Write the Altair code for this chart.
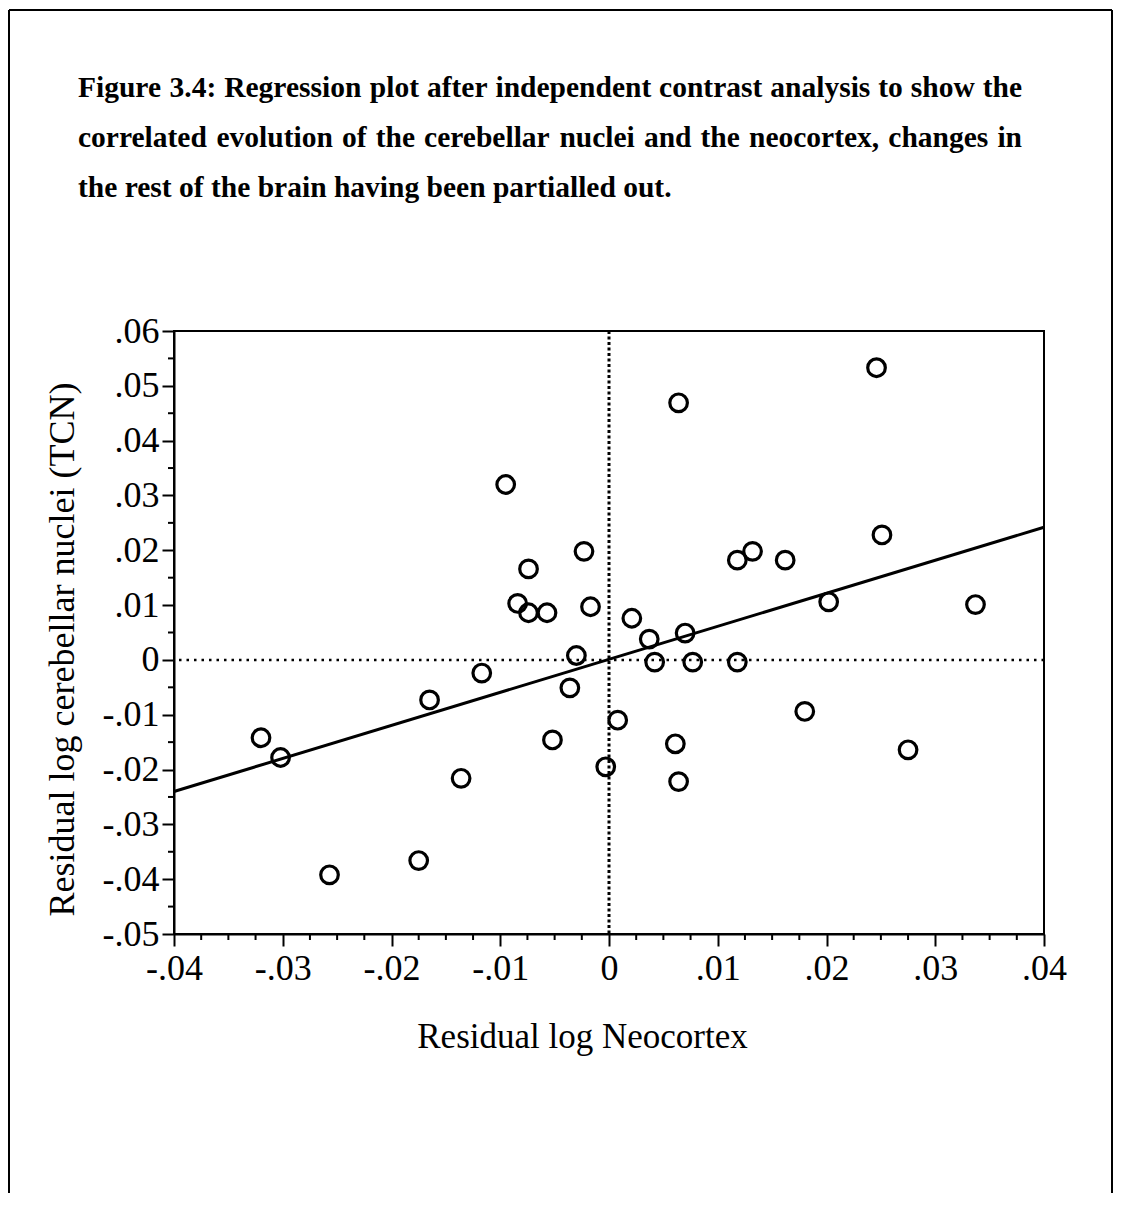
import json
import altair as alt
import pandas as pd

# ---------------- data ----------------
neocortex = [0.0246, 0.0064, -0.0095, 0.0251, -0.0023, 0.0132, 0.0118, 0.0162,
             -0.0074, -0.0084, -0.0074, -0.0057, -0.0017, 0.0202, 0.0337, 0.0021,
             0.0070, 0.0037, -0.0030, 0.0042, 0.0077, 0.0118, -0.0117, -0.0165,
             -0.0036, 0.0008, 0.0180, -0.0320, -0.0302, -0.0052, 0.0061, 0.0275,
             -0.0136, -0.0003, 0.0064, -0.0175, -0.0257]
nuclei = [0.0533, 0.0469, 0.0320, 0.0228, 0.0198, 0.0198, 0.0182, 0.0182,
          0.0166, 0.0103, 0.0086, 0.0086, 0.0097, 0.0106, 0.0101, 0.0076,
          0.0049, 0.0038, 0.0008, -0.0004, -0.0004, -0.0004, -0.0024, -0.0073,
          -0.0051, -0.0110, -0.0094, -0.0142, -0.0178, -0.0146, -0.0153, -0.0164,
          -0.0216, -0.0195, -0.0222, -0.0366, -0.0392]

fit_x = [-0.04, 0.04]
fit_y = [-0.0240, 0.0242]

x_ticks = [-0.04, -0.03, -0.02, -0.01, 0.0, 0.01, 0.02, 0.03, 0.04]
x_labels = ["-.04", "-.03", "-.02", "-.01", "0", ".01", ".02", ".03", ".04"]
y_ticks = [-0.05, -0.04, -0.03, -0.02, -0.01, 0.0, 0.01, 0.02, 0.03, 0.04, 0.05, 0.06]
y_labels = ["-.05", "-.04", "-.03", "-.02", "-.01", "0", ".01", ".02", ".03", ".04", ".05", ".06"]

x_minor = [round(-0.04 + i * 0.0025, 4) for i in range(33) if i % 4 != 0]
y_minor = [round(-0.05 + i * 0.005, 4) for i in range(23) if i % 2 != 0]

caption = [
    "Figure 3.4: Regression plot after independent contrast analysis to show the",
    "correlated evolution of the cerebellar nuclei and the neocortex, changes in",
    "the rest of the brain having been partialled out.",
]
x_title = "Residual log Neocortex"
y_title = "Residual log cerebellar nuclei (TCN)"

# ---------------- layout ----------------
W, H = 870, 603
PAD = {"left": 166, "top": 323, "right": 70, "bottom": 259}
SERIF = "Liberation Serif"

pts = pd.DataFrame({"x": neocortex, "y": nuclei})
fit = pd.DataFrame({"x": fit_x, "y": fit_y})
zero = pd.DataFrame({"x": [0.0], "y": [0.0]})
one = pd.DataFrame({"k": [0]})

xs = alt.Scale(domain=[-0.04, 0.04], nice=False, zero=False)
ys = alt.Scale(domain=[-0.05, 0.06], nice=False, zero=False)


def label_expr(vals, labels):
    keys = [int(round(v * 100)) for v in vals]
    return f"{json.dumps(labels)}[indexof({json.dumps(keys)}, round(datum.value*100))]"


common_axis = dict(
    grid=False, tickSize=12, tickWidth=2, tickColor="black",
    domainColor="black", domainWidth=2,
    labelFont=SERIF, labelFontSize=36, labelColor="black",
    labelFlush=False, labelOverlap=False,
    titleFont=SERIF, titleFontWeight="normal", titleColor="black",
)

x_axis = alt.Axis(values=x_ticks, labelExpr=label_expr(x_ticks, x_labels),
                  labelPadding=5, title=x_title, titleFontSize=35, titleX=408, titleY=113,
                  titleAlign="center", titleBaseline="alphabetic", **common_axis)
y_axis = alt.Axis(values=y_ticks, labelExpr=label_expr(y_ticks, y_labels),
                  labelPadding=3, title=y_title, titleFontSize=36, titleX=-101, titleY=318,
                  titleAngle=270, titleAlign="center", titleBaseline="alphabetic",
                  **common_axis)


def X(field):
    return alt.X(f"{field}:Q", scale=xs, axis=x_axis)


def Y(field):
    return alt.Y(f"{field}:Q", scale=ys, axis=y_axis)


points = alt.Chart(pts).mark_point(
    shape="circle", filled=False, color="black", strokeWidth=3.2, size=310, opacity=1
).encode(x=X("x"), y=Y("y"))

line = alt.Chart(fit).mark_line(color="black", strokeWidth=3).encode(x=X("x"), y=Y("y"))

vzero = alt.Chart(zero).mark_rule(color="black", strokeWidth=3, strokeDash=[3, 2.5]).encode(
    x=X("x"))
hzero = alt.Chart(zero).mark_rule(color="black", strokeWidth=2.5, strokeDash=[2.5, 5]).encode(
    y=Y("y"))

xminor = alt.Chart(pd.DataFrame({"x": x_minor})).mark_rule(color="black", strokeWidth=2).encode(
    x=X("x"), y=alt.value(H), y2=alt.value(H + 6))
yminor = alt.Chart(pd.DataFrame({"y": y_minor})).mark_rule(color="black", strokeWidth=2).encode(
    y=Y("y"), x=alt.value(0), x2=alt.value(-6))

# ---------------- caption (justified like the printed page) ----------------
CAP_FS = 29.5
CAP_X0, CAP_W = -96, 944          # left edge and justified width, relative to plot
CAP_Y0, CAP_LH = 97 - 331, 50     # first baseline and line spacing

# approximate advance widths of Times Bold (per 1000 em) used for justification
_bold_w = {
    " ": 250, "a": 500, "b": 556, "c": 444, "d": 556, "e": 444, "f": 333, "g": 500,
    "h": 556, "i": 278, "j": 333, "k": 556, "l": 278, "m": 833, "n": 556, "o": 500,
    "p": 556, "q": 556, "r": 444, "s": 389, "t": 333, "u": 556, "v": 500, "w": 722,
    "x": 500, "y": 500, "z": 444, "F": 611, "R": 722, ".": 250, ":": 333, ",": 250,
}


def word_width(w):
    return sum(_bold_w.get(ch, 500) for ch in w) * CAP_FS / 1000.0


text_style = dict(baseline="alphabetic", font=SERIF, fontSize=CAP_FS,
                  fontWeight="bold", color="black")
cap_layers = []
for li, text in enumerate(caption):
    y_px = CAP_Y0 + li * CAP_LH
    if li == len(caption) - 1:
        cap_layers.append(alt.Chart(one).mark_text(text=text, align="left", **text_style)
                          .encode(x=alt.value(CAP_X0), y=alt.value(y_px)))
        continue
    words = text.split(" ")
    widths = [word_width(w) for w in words]
    gap = (CAP_W - sum(widths)) / (len(words) - 1)
    x_px = CAP_X0
    for wi, w in enumerate(words):
        if wi == len(words) - 1:
            cap_layers.append(alt.Chart(one).mark_text(text=w, align="right", **text_style)
                              .encode(x=alt.value(CAP_X0 + CAP_W), y=alt.value(y_px)))
        else:
            cap_layers.append(alt.Chart(one).mark_text(text=w, align="left", **text_style)
                              .encode(x=alt.value(round(x_px, 1)), y=alt.value(y_px)))
        x_px += widths[wi] + gap

# ---------------- page frame ----------------
frame_bottom = H + PAD["bottom"]
frame_r = W + PAD["right"] - 2
frame_left = alt.Chart(one).mark_rule(color="black", strokeWidth=2).encode(
    x=alt.value(-165), y=alt.value(-321), y2=alt.value(frame_bottom))
frame_top = alt.Chart(one).mark_rule(color="black", strokeWidth=2).encode(
    x=alt.value(-165), x2=alt.value(frame_r), y=alt.value(-321))
frame_right = alt.Chart(one).mark_rule(color="black", strokeWidth=2).encode(
    x=alt.value(frame_r), y=alt.value(-321), y2=alt.value(frame_bottom))

chart = alt.layer(
    vzero, hzero, line, points, xminor, yminor, *cap_layers,
    frame_left, frame_top, frame_right
).properties(
    width=W, height=H, autosize=alt.AutoSizeParams(type="none"), padding=PAD,
    background="white",
).configure_view(stroke="black", strokeWidth=2)

chart.save("out.html", embed_options={"renderer": "svg", "actions": False})
